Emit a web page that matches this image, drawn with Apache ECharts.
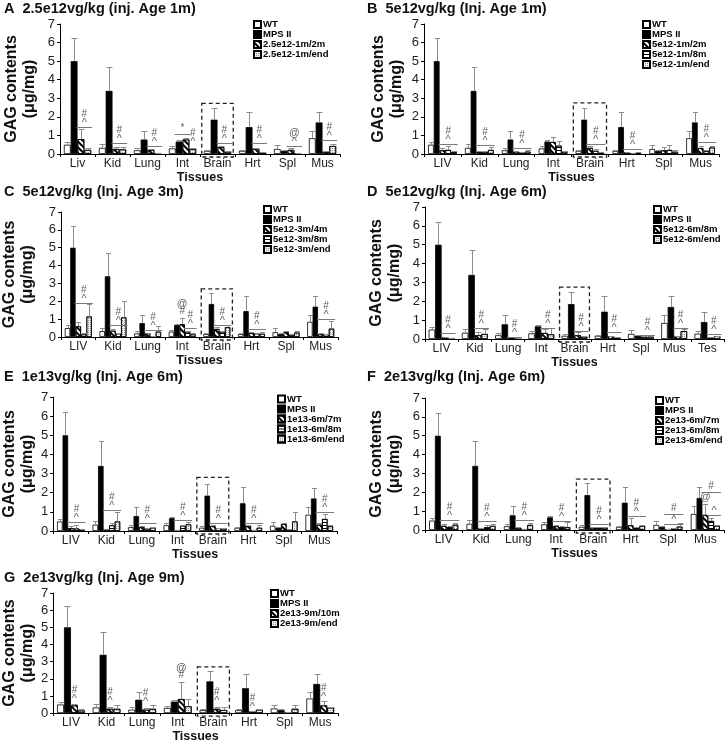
<!DOCTYPE html>
<html><head><meta charset="utf-8">
<script src="https://cdn.jsdelivr.net/npm/echarts@6/dist/echarts.min.js"></script>
<style>html,body{margin:0;padding:0;background:#fff}#c{width:726px;height:744px}</style>
</head><body><div id="c"></div>
<script>
// ---------------- DATA ----------------
const tissuesA = ['Liv','Kid','Lung','Int','Brain','Hrt','Spl','Mus'];
const tissues8 = ['LIV','Kid','Lung','Int','Brain','Hrt','Spl','Mus'];
const tissues9 = ['LIV','Kid','Lung','Int','Brain','Hrt','Spl','Mus','Tes'];
const panelTitles = ['A  2.5e12vg/kg (inj. Age 1m)','B  5e12vg/kg (Inj. Age 1m)','C  5e12vg/kg (Inj. Age 3m)','D  5e12vg/kg (Inj. Age 6m)','E  1e13vg/kg (Inj. Age 6m)','F  2e13vg/kg (Inj. Age 6m)','G  2e13vg/kg (Inj. Age 9m)'];

const wtMean  = [0.5,0.33,0.2,0.3,0.17,0.17,0.27,0.85,0.28];
const wtSem   = [0.15,0.2,0.13,0.12,0.07,0.05,0.22,0.4,0.15];
const mpsMean = [5.0,3.4,0.78,0.67,1.85,1.45,0.17,1.7,0.9];
const mpsSem  = [1.22,1.3,0.47,0.08,0.63,0.83,0.05,0.57,0.52];

const a_1m2m = [0.8,0.27,0.22,0.78,0.37,0.3,0.22,0.12];
const a_1m2mErr = [0.55,0.1,0.05,0.1,0.05,0.03,0.12,0.03];
const a_1mEnd = [0.22,0.25,0.05,0.27,0.12,0.07,0.03,0.43];
const a_1mEndErr = [0.1,0.15,0.02,0.08,0.03,0.02,0.02,0.12];

const b_1m2m = [0.2,0.1,0.13,0.65,0.33,0.1,0.2,0.32];
const b_1m2mErr = [0.15,0.05,0.05,0.27,0.1,0.03,0.2,0.1];
const b_1m8m = [0.22,0.12,0.08,0.45,0.17,0.05,0.22,0.15];
const b_1m8mErr = [0.2,0.05,0.03,0.25,0.1,0.02,0.25,0.05];
const b_1mEnd = [0.1,0.22,0.13,0.12,0.07,0.08,0.12,0.35];
const b_1mEndErr = [0.05,0.15,0.07,0.05,0.02,0.03,0.1,0.1];

const c_3m4m = [0.6,0.35,0.2,0.72,0.45,0.22,0.27,0.15];
const c_3m4mErr = [0.25,0.1,0.05,0.35,0.1,0.05,0.05,0.05];
const c_3m8m = [0.15,0.2,0.05,0.3,0.3,0.2,0.12,0.15];
const c_3m8mErr = [0.05,0.05,0.02,0.05,0.05,0.03,0.03,0.03];
const c_3mEnd = [1.15,1.1,0.3,0.15,0.55,0.18,0.25,0.47];
const c_3mEndErr = [0.7,0.92,0.3,0.05,0.15,0.1,0.1,0.4];

const d_6m8m = [0.1,0.2,0.07,0.32,0.2,0.15,0.12,0.15,0.07];
const d_6m8mErr = [0.03,0.15,0.02,0.2,0.15,0.03,0.03,0.03,0.02];
const d_6mEnd = [0.05,0.27,0.05,0.25,0.12,0.07,0.12,0.42,0.15];
const d_6mEndErr = [0.02,0.25,0.02,0.35,0.03,0.02,0.1,0.1,0.03];

const e_6m7m = [0.15,0.1,0.2,0.05,0.25,0.3,0.37,0.33];
const e_6m7mErr = [0.1,0.03,0.05,0.02,0.05,0.03,0.03,0.1];
const e_6m8m = [0.13,0.3,0.12,0.28,0.15,0.05,0.1,0.63];
const e_6m8mErr = [0.2,0.1,0.03,0.05,0.03,0.02,0.03,0.28];
const e_6mEnd = [0.1,0.5,0.18,0.35,0.12,0.17,0.5,0.25];
const e_6mEndErr = [0.03,0.5,0.05,0.1,0.03,0.15,0.48,0.05];

const f_6m7m = [0.22,0.1,0.12,0.2,0.12,0.25,0.05,0.8];
const f_6m7mErr = [0.08,0.03,0.03,0.05,0.03,0.4,0.02,0.6];
const f_6m8m = [0.15,0.15,0.05,0.15,0.12,0.12,0.08,0.48];
const f_6m8mErr = [0.05,0.1,0.02,0.05,0.03,0.03,0.03,0.15];
const f_6mEnd = [0.28,0.22,0.27,0.15,0.12,0.22,0.18,0.22];
const f_6mEndErr = [0.1,0.08,0.1,0.25,0.03,0.03,0.2,0.03];

const g_9m10m = [0.45,0.25,0.2,0.82,0.25,0.1,0.03,0.45];
const g_9m10mErr = [0.1,0.1,0.1,1.0,0.1,0.03,0.01,0.25];
const g_9mEnd = [0.15,0.25,0.25,0.4,0.18,0.2,0.25,0.32];
const g_9mEndErr = [0.1,0.2,0.2,0.45,0.15,0.03,0.2,0.05];

// significance marks: [tissue index, level, first bar, last bar, marks (top→bottom), with bracket line]
const annA = [[0,1.45,2,3,'#^',1],[1,0.57,2,3,'#^',1],[2,0.42,2,3,'#^',1],[3,1.1,1,2,'*',1],[3,0.42,3,3,'#^',0],[4,0.6,2,3,'#^',1],[5,0.57,2,3,'#^',1],[6,0.45,2,3,'@^',1],[7,0.74,2,3,'#^',1]];
const annB = [[0,0.55,2,4,'#^',1],[1,0.5,2,4,'#^',1],[2,0.35,2,4,'#^',1],[4,0.55,2,4,'#^',1],[5,0.25,2,4,'#^',1],[7,0.67,2,4,'#^',1]];
const annC = [[0,1.9,2,4,'#^',1],[1,0.65,2,4,'#^',1],[2,0.39,2,4,'#^',1],[3,1.1,2,2,'@#',0],[3,0.52,3,4,'#^',1],[4,0.67,2,4,'#^',1],[5,0.45,2,4,'#^',1],[7,1.0,2,4,'#^',1]];
const annD = [[0,0.32,2,3,'#^',1],[1,0.6,2,3,'#^',1],[2,0.12,2,3,'#^',1],[3,0.6,2,3,'#^',1],[4,0.42,2,3,'#^',1],[5,0.35,2,3,'#^',1],[6,0.22,2,3,'#^',1],[7,0.6,2,3,'#^',1],[8,0.28,2,3,'#^',1]];
const annE = [[0,0.45,2,4,'#^',1],[1,1.1,2,4,'#^',1],[2,0.4,2,4,'#^',1],[3,0.55,2,4,'#^',1],[4,0.42,2,4,'#^',1],[5,0.42,2,4,'#^',1],[7,1.0,2,4,'#^',1]];
const annF = [[0,0.55,2,4,'#^',1],[1,0.47,2,4,'#^',1],[2,0.55,2,4,'#^',1],[3,0.5,2,4,'#^',1],[4,0.33,2,4,'#^',1],[5,0.75,2,4,'#^',1],[6,0.83,2,4,'#',1],[6,0.32,2,4,'^',1],[7,2.0,2,4,'#',1],[7,1.45,2,2,'@',0],[7,0.78,3,4,'^',1]];
const annG = [[0,0.6,2,2,'#^',0],[1,0.45,2,2,'#^',0],[2,0.42,2,2,'#^',0],[3,1.85,2,2,'@#',0],[4,0.5,2,2,'#^',0],[5,0.1,2,2,'#^',0],[7,0.72,2,2,'#^',0]];
const boxTops = [2.73,2.75,2.7,2.75,2.8,2.7,2.7];

// ---------------- STYLE / LAYOUT ----------------
const FONT = '"Liberation Sans", Arial, sans-serif';
const GAP = 0.22;
const STYLES = {
  wt:   {color:'#ffffff'},
  mps:  {color:'#000000'},
  diag: {color:'#ffffff', decal:{symbol:'rect', symbolSize:1, dashArrayX:[1,0], dashArrayY:[2,2], rotation:Math.PI/4, color:'#000'}},
  horiz:{color:'#ffffff', decal:{symbol:'rect', symbolSize:1, dashArrayX:[1,0], dashArrayY:[1,1.5], rotation:0, color:'#000'}},
  light:{color:'#eeeeee', decal:{symbol:'rect', symbolSize:1, dashArrayX:[1,1], dashArrayY:[1,1], rotation:0, color:'#8f8f8f'}}
};
const panels = [
  {cats:tissuesA, groups:[['WT','wt',wtMean,wtSem],['MPS II','mps',mpsMean,mpsSem],['2.5e12-1m/2m','diag',a_1m2m,a_1m2mErr],['2.5e12-1m/end','light',a_1mEnd,a_1mEndErr]], ann:annA,
   grid:{left:60,top:24,width:280,height:130}, tpos:[4,1], lpos:[253,19.5], yGap:21, xGap:14},
  {cats:tissues8, groups:[['WT','wt',wtMean,wtSem],['MPS II','mps',mpsMean,mpsSem],['5e12-1m/2m','diag',b_1m2m,b_1m2mErr],['5e12-1m/8m','horiz',b_1m8m,b_1m8mErr],['5e12-1m/end','light',b_1mEnd,b_1mEndErr]], ann:annB,
   grid:{left:424,top:24,width:295,height:130}, tpos:[367,1], lpos:[642,19.5], yGap:18, xGap:15},
  {cats:tissues8, groups:[['WT','wt',wtMean,wtSem],['MPS II','mps',mpsMean,mpsSem],['5e12-3m/4m','diag',c_3m4m,c_3m4mErr],['5e12-3m/8m','horiz',c_3m8m,c_3m8mErr],['5e12-3m/end','light',c_3mEnd,c_3mEndErr]], ann:annC,
   grid:{left:60,top:212,width:278,height:125}, tpos:[4,184], lpos:[263,204.5], yGap:24, xGap:15},
  {cats:tissues9, groups:[['WT','wt',wtMean,wtSem],['MPS II','mps',mpsMean,mpsSem],['5e12-6m/8m','diag',d_6m8m,d_6m8mErr],['5e12-6m/end','light',d_6mEnd,d_6mEndErr]], ann:annD,
   grid:{left:425,top:207,width:299,height:132}, tpos:[367,184], lpos:[653,204.5], yGap:21, xGap:16},
  {cats:tissues8, groups:[['WT','wt',wtMean,wtSem],['MPS II','mps',mpsMean,mpsSem],['1e13-6m/7m','diag',e_6m7m,e_6m7mErr],['1e13-6m/8m','horiz',e_6m8m,e_6m8mErr],['1e13-6m/end','light',e_6mEnd,e_6mEndErr]], ann:annE,
   grid:{left:50,top:397,width:287,height:134}, tpos:[4,369], lpos:[277,394], yGap:12, xGap:13},
  {cats:tissues8, groups:[['WT','wt',wtMean,wtSem],['MPS II','mps',mpsMean,mpsSem],['2e13-6m/7m','diag',f_6m7m,f_6m7mErr],['2e13-6m/8m','horiz',f_6m8m,f_6m8mErr],['2e13-6m/end','light',f_6mEnd,f_6mEndErr]], ann:annF,
   grid:{left:425,top:398,width:299,height:132}, tpos:[367,369], lpos:[655,395.5], yGap:21, xGap:15},
  {cats:tissues8, groups:[['WT','wt',wtMean,wtSem],['MPS II','mps',mpsMean,mpsSem],['2e13-9m/10m','diag',g_9m10m,g_9m10mErr],['2e13-9m/end','light',g_9mEnd,g_9mEndErr]], ann:annG,
   grid:{left:48,top:593,width:290,height:126}, tpos:[4,570], lpos:[270,588.5], yGap:11, xGap:14}
];

// ---------------- BUILD ----------------
const option = {animation:false, backgroundColor:'#fff', title:[], grid:[], xAxis:[], yAxis:[], legend:[], series:[]};

function barPos(api, catIdx, n, i0, i1) {
  const band = api.size([1,0])[0];
  const gw = band*(1-GAP), bw = gw/n;
  const c = api.coord([catIdx, 0])[0];
  return [c - gw/2 + i0*bw, c - gw/2 + (i1+1)*bw, bw];
}

panels.forEach((P, gi) => {
  const n = P.groups.length, nc = P.cats.length;
  option.title.push({text:panelTitles[gi], left:P.tpos[0], top:P.tpos[1], padding:0,
    textStyle:{fontSize:14.5, fontWeight:'bold', fontFamily:FONT, color:'#111'}});
  option.grid.push(Object.assign({containLabel:false}, P.grid));
  option.xAxis.push({type:'category', gridIndex:gi, data:P.cats, name:'Tissues', nameLocation:'middle', nameGap:P.xGap,
    nameTextStyle:{fontSize:12.5, fontWeight:'bold', fontFamily:FONT, color:'#111'},
    axisLine:{lineStyle:{color:'#000', width:1}}, axisTick:{show:true, length:3, lineStyle:{color:'#000'}},
    axisLabel:{fontSize:12, fontFamily:FONT, color:'#222', margin:4, interval:0}});
  option.yAxis.push({type:'value', gridIndex:gi, min:0, max:7, interval:1, name:'GAG contents\n(μg/mg)',
    nameLocation:'middle', nameRotate:90, nameGap:P.yGap,
    nameTextStyle:{fontSize:16, fontWeight:'bold', fontFamily:FONT, color:'#111', lineHeight:18},
    splitLine:{show:false}, axisLine:{show:true, lineStyle:{color:'#000', width:1}},
    axisTick:{show:true, length:3, lineStyle:{color:'#000'}},
    axisLabel:{fontSize:13, fontFamily:FONT, color:'#222', margin:5}});
  option.legend.push({orient:'vertical', left:P.lpos[0], top:P.lpos[1], padding:0, itemGap:0,
    itemWidth:7, itemHeight:7, icon:'rect', selectedMode:false, data:P.groups.map(g=>g[0]),
    textStyle:{fontSize:9.5, fontWeight:'bold', fontFamily:FONT, color:'#000', lineHeight:9.5, padding:[0,0,0,-3]}});

  P.groups.forEach((g, bi) => {
    option.series.push({type:'bar', name:g[0], xAxisIndex:gi, yAxisIndex:gi, silent:true,
      barGap:'0%', barCategoryGap:(GAP*100)+'%', data:g[2].slice(0,nc),
      itemStyle:Object.assign({borderColor:'#000', borderWidth:0.8}, STYLES[g[1]])});
  });
  // error bars (upper SEM)
  P.groups.forEach((g, bi) => {
    option.series.push({type:'custom', name:'err'+gi+'_'+bi, xAxisIndex:gi, yAxisIndex:gi, silent:true, z:3,
      data:g[2].slice(0,nc).map((v,i)=>[i, v, g[3][i]]),
      renderItem(params, api){
        const p = barPos(api, api.value(0), n, bi, bi);
        const x = Math.round((p[0]+p[1])/2)+0.5;
        const y0 = api.coord([api.value(0), api.value(1)])[1];
        const y1 = Math.round(api.coord([api.value(0), api.value(1)+api.value(2)])[1])+0.5;
        const cap = Math.max(2, Math.min(3, p[2]*0.45));
        return {type:'group', children:[
          {type:'line', shape:{x1:x,y1:y0,x2:x,y2:y1}, style:{stroke:'#8c8c8c', lineWidth:1}},
          {type:'line', shape:{x1:x-cap,y1:y1,x2:x+cap,y2:y1}, style:{stroke:'#8c8c8c', lineWidth:1}}
        ]};
      }});
  });
  // significance marks
  const ann = P.ann;
  option.series.push({type:'custom', name:'ann'+gi, xAxisIndex:gi, yAxisIndex:gi, silent:true, z:4,
    data:ann.map(a=>[a[0], a[1]]),
    renderItem(params, api){
      const a = ann[params.dataIndex];
      const p = barPos(api, a[0], n, a[2], a[3]);
      const y = Math.round(api.coord([a[0], a[1]])[1])+0.5;
      const cx = (p[0]+p[1])/2;
      const ch = [];
      if (a[5]) ch.push({type:'line', shape:{x1:p[0]-1,y1:y,x2:p[1]+1,y2:y}, style:{stroke:'#7a7a7a', lineWidth:1}});
      a[4].split('').reverse().forEach((c,k)=>{
        const f = c==='^' ? '11px ' : (c==='@' ? '10.5px ' : '10px ');
        const dy = c==='^' ? 2 : 0;
        ch.push({type:'text', x:cx, y:y-1-k*7+dy, style:{text:c, fill:'#5e5e5e', font:f+FONT, align:'center', verticalAlign:'bottom'}});
      });
      return {type:'group', children:ch};
    }});
  // dashed box around brain
  option.series.push({type:'custom', name:'box'+gi, xAxisIndex:gi, yAxisIndex:gi, silent:true, z:5,
    data:[[4, boxTops[gi]]],
    renderItem(params, api){
      const band = api.size([1,0])[0];
      const t = api.coord([api.value(0), api.value(1)]);
      const b = api.coord([api.value(0), 0]);
      return {type:'rect', shape:{x:t[0]-band*0.45, y:t[1], width:band*0.9, height:b[1]-t[1]+3},
        style:{fill:null, stroke:'#222', lineWidth:1.3, lineDash:[4,3]}};
    }});
});

const chart = echarts.init(document.getElementById('c'), null, {renderer:'canvas'});
chart.setOption(option);
</script></body></html>
